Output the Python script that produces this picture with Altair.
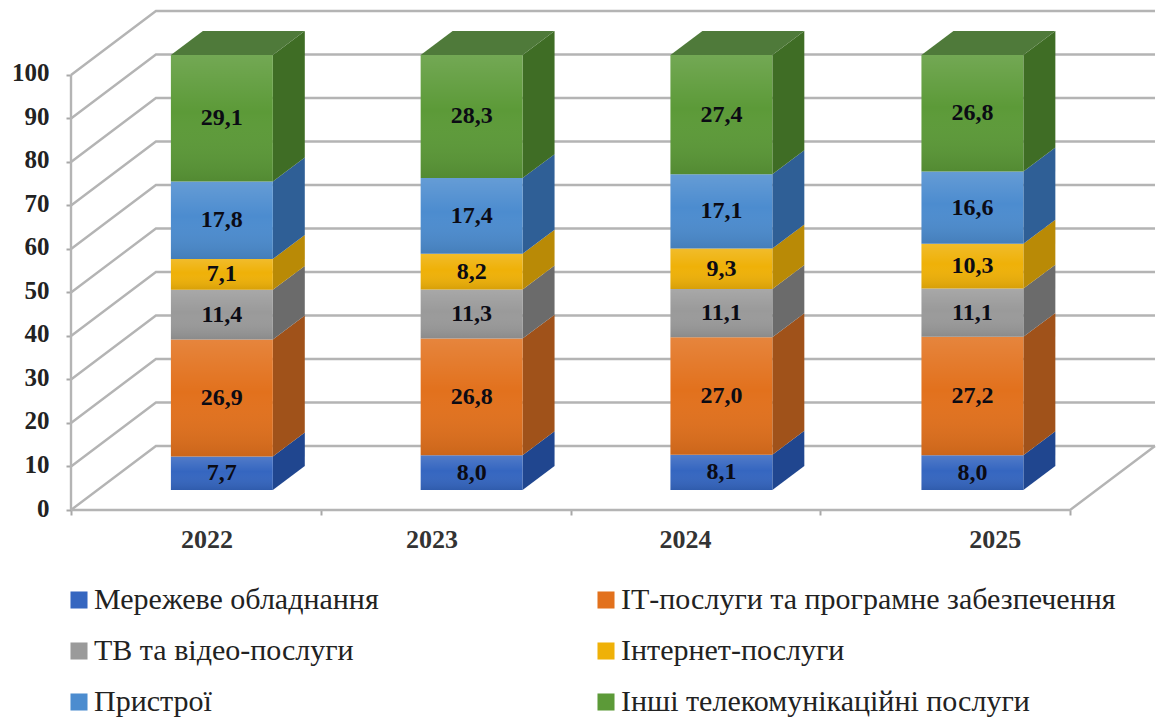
import altair as alt
import pandas as pd

years = ["2022", "2023", "2024", "2025"]
series = ["Мережеве обладнання", "ІТ-послуги та програмне забезпечення", "ТВ та відео-послуги",
          "Інтернет-послуги", "Пристрої", "Інші телекомунікаційні послуги"]
values = [
    [7.7, 8.0, 8.1, 8.0],
    [26.9, 26.8, 27.0, 27.2],
    [11.4, 11.3, 11.1, 11.1],
    [7.1, 8.2, 9.3, 10.3],
    [17.8, 17.4, 17.1, 16.6],
    [29.1, 28.3, 27.4, 26.8],
]
front_colors = ["#3566c0", "#e2711d", "#9a9a9a", "#efb108", "#4c8ccf", "#5c9a38"]
side_colors = ["#20468f", "#a0521a", "#6b6b6b", "#b98a06", "#2f5f96", "#3f6d25"]
top_color = "#4f7a3a"
year_label_pos = [0.545, 1.445, 2.46, 3.70]
bar_left = [0.40, 1.40, 2.40, 3.405]

FONT = "Liberation Serif"
BAR_W = 0.408
BASE = 4.6          # bars stand this far into the floor
DX, DY = 0.128, 5.5 # bar depth
WX, WY = 0.34, 14.7 # wall depth

x_scale = alt.Scale(domain=[0, 4.348], nice=False, zero=False)
y_scale = alt.Scale(domain=[0, 114.7], nice=False, zero=False)
x_axis = alt.Axis(values=[0, 1, 2, 3, 4], labels=False, domain=False, grid=False,
                  tickColor="#a8a8a8", tickSize=5, tickWidth=2)
y_axis = alt.Axis(values=list(range(0, 101, 10)), domain=False, grid=False,
                  tickColor="#a8a8a8", tickSize=5, tickWidth=2,
                  labelFont=FONT, labelFontSize=25, labelFontWeight="bold",
                  labelColor="#222222", labelPadding=17, labelOffset=-2)
X = lambda f: alt.X(f, type="quantitative", scale=x_scale, title=None, axis=x_axis)
Y = lambda f: alt.Y(f, type="quantitative", scale=y_scale, title=None, axis=y_axis)

# frame lines
frame = []
for v in range(0, 101, 10):
    frame += [dict(g=f"h{v}", o=0, x=0, y=v), dict(g=f"h{v}", o=1, x=WX, y=v + WY),
              dict(g=f"h{v}", o=2, x=4 + WX, y=v + WY)]
frame += [dict(g="floor", o=0, x=0, y=0), dict(g="floor", o=1, x=4, y=0), dict(g="floor", o=2, x=4 + WX, y=WY)]
frame += [dict(g="axis", o=0, x=0, y=0), dict(g="axis", o=1, x=0, y=100)]
frame_layer = alt.Chart(pd.DataFrame(frame)).mark_line(color="#b4b4b4", strokeWidth=2.4).encode(
    x=X("x"), y=Y("y"), detail="g:N", order="o:Q")

# stacked geometry
rows, sides = [], []
for j, name in enumerate(years):
    low = BASE
    for i, s in enumerate(series):
        v = values[i][j]
        l, r = bar_left[j], bar_left[j] + BAR_W
        rows.append(dict(series=s, year=name, x=l, x2=r, y=low, y2=low + v,
                         mx=(l + r) / 2, my=low + v / 2,
                         text=f"{v:.1f}".replace(".", ",")))
        sides.append(dict(i=i, g=f"{name}-{i}", x=r, y=low, y2=low + v))
        sides.append(dict(i=i, g=f"{name}-{i}", x=r + DX, y=low + DY, y2=low + v + DY))
        low += v
rows_df = pd.DataFrame(rows)
sides_df = pd.DataFrame(sides)

side_layers = [
    alt.Chart(sides_df[sides_df.i == i]).mark_area(color=side_colors[i]).encode(
        x=X("x"), y=Y("y"), y2="y2:Q", detail="g:N")
    for i in range(len(series))
]

tops = []
for j, name in enumerate(years):
    l, r = bar_left[j], bar_left[j] + BAR_W
    t = BASE + 100
    tops += [dict(g=name, x=l, y=t, y2=t), dict(g=name, x=l + DX, y=t, y2=t + DY),
             dict(g=name, x=r, y=t, y2=t + DY), dict(g=name, x=r + DX, y=t + DY, y2=t + DY)]
top_layer = alt.Chart(pd.DataFrame(tops)).mark_area(color=top_color).encode(
    x=X("x"), y=Y("y"), y2="y2:Q", detail="g:N")

front = alt.Chart(rows_df).mark_rect().encode(
    x=X("x"), x2="x2:Q", y=Y("y"), y2="y2:Q",
    color=alt.Color("series:N", scale=alt.Scale(domain=series, range=front_colors),
                    legend=alt.Legend(title=None, orient="none", legendX=-7, legendY=574,
                                      columns=2, direction="horizontal", gridAlign="all",
                                      symbolType="square", symbolSize=290, symbolStrokeWidth=0,
                                      labelFont=FONT, labelFontSize=30, labelColor="#222222",
                                      labelLimit=700, labelOffset=0, columnPadding=2, rowPadding=21)))
shade = alt.Chart(rows_df).mark_rect(
    color=alt.Gradient(gradient="linear", x1=0, x2=0, y1=0, y2=1,
                       stops=[alt.GradientStop(color="rgba(255,255,255,0.14)", offset=0),
                              alt.GradientStop(color="rgba(255,255,255,0)", offset=0.45),
                              alt.GradientStop(color="rgba(0,0,0,0.10)", offset=1)])
).encode(x=X("x"), x2="x2:Q", y=Y("y"), y2="y2:Q")

labels = alt.Chart(rows_df).mark_text(font=FONT, fontSize=24, fontWeight="bold", color="#0b0b14",
                                      baseline="middle").encode(
    x=X("mx"), y=Y("my"), text="text:N")

year_df = pd.DataFrame({"x": year_label_pos, "y": [-7] * 4, "t": years})
year_layer = alt.Chart(year_df).mark_text(font=FONT, fontSize=26, fontWeight="bold", color="#333333",
                                          baseline="middle").encode(
    x=X("x"), y=Y("y"), text="t:N")

chart = alt.layer(frame_layer, *side_layers, top_layer, front, shade, labels, year_layer).properties(
    width=1086, height=499, autosize="none",
    padding={"left": 63, "top": 3, "right": 0, "bottom": 210},
).configure_view(stroke=None)

chart.save("out.html", embed_options={"renderer": "svg", "actions": False})
